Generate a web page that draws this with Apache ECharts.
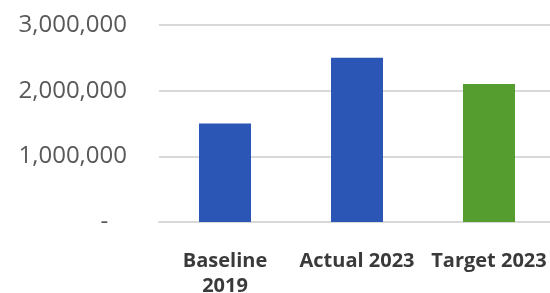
<!DOCTYPE html>
<html>
<head>
  <meta charset="UTF-8">
  <title>chart</title>
  <style>
    html, body { margin: 0; padding: 0; background: #fff; }
    #chart { width: 550px; height: 293px; }
  </style>
</head>
<body>
  <div id="chart"></div>
  <script src="https://cdn.jsdelivr.net/npm/echarts@6/dist/echarts.min.js"></script>
  <script>
    var categories = ['Baseline\n2019', 'Actual 2023', 'Target 2023'];
    var values = [1500000, 2500000, 2100000];
    var yTicks = { min: 0, max: 3000000, interval: 1000000 };

    var blue = '#2b56b5';
    var green = '#559d2f';

    function fmt(v) {
      if (v === 0) return '-   ';
      return v.toString().replace(/\B(?=(\d{3})+(?!\d))/g, ',');
    }

    var myChart = echarts.init(document.getElementById('chart'));
    var option = {
      animation: false,
      grid: {
        left: 159,
        right: -5,
        top: 25,
        bottom: 71,
        outerBoundsMode: 'none'
      },
      xAxis: {
        type: 'category',
        data: categories,
        axisLine: { lineStyle: { color: '#d9d9d9', width: 2 } },
        axisTick: { show: false },
        axisLabel: {
          interval: 0,
          hideOverlap: false,
          color: '#3a3a3a',
          fontFamily: 'Open Sans',
          fontWeight: 'bold',
          fontSize: 20,
          lineHeight: 25,
          margin: 27
        }
      },
      yAxis: {
        type: 'value',
        min: yTicks.min,
        max: yTicks.max,
        interval: yTicks.interval,
        axisLine: { show: false },
        axisTick: { show: false },
        splitLine: { lineStyle: { color: '#d9d9d9', width: 2 } },
        axisLabel: {
          color: '#595959',
          fontFamily: 'Open Sans',
          fontSize: 24,
          margin: 32,
          formatter: fmt
        }
      },
      series: [{
        type: 'bar',
        data: values,
        barWidth: 52,
        itemStyle: {
          color: function (p) {
            return p.dataIndex === 2 ? green : blue;
          }
        }
      }]
    };
    myChart.setOption(option);
  </script>
</body>
</html>
